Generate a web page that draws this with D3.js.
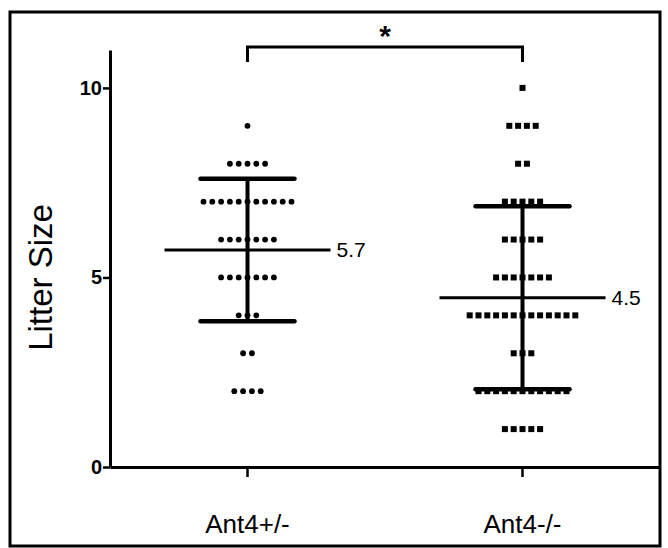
<!DOCTYPE html>
<html>
<head>
<meta charset="utf-8">
<script src="https://cdn.jsdelivr.net/npm/d3@7"></script>
<style>
  body { margin: 0; background: #fff; }
  svg text { font-family: "Liberation Sans", Arial, sans-serif; }
</style>
</head>
<body>
<div id="graph"></div>
<script>
// groups on the x axis
var groups = ["Ant4+/-", "Ant4-/-"];
// litter size values and how many litters had each size
var sizes1 = [9, 8, 7, 6, 5, 4, 3, 2];
var counts1 = [1, 5, 11, 7, 7, 3, 2, 4];
var sizes2 = [10, 9, 8, 7, 6, 5, 4, 3, 2, 1];
var counts2 = [1, 4, 2, 5, 5, 7, 13, 3, 11, 5];
var yTicks = [0, 5, 10];

var W = 668, H = 548;
var margin = {top: 50, right: 8, bottom: 81, left: 110};

var svg = d3.select("#graph").append("svg")
    .attr("width", W)
    .attr("height", H);

// frame round the whole figure
svg.append("rect")
    .attr("x", 10).attr("y", 12)
    .attr("width", 650).attr("height", 534)
    .attr("fill", "none").attr("stroke", "#000").attr("stroke-width", 3);

var x = d3.scaleBand().domain(groups).range([margin.left, W - margin.right]);
var y = d3.scaleLinear().domain([0, 11]).range([H - margin.bottom, margin.top]);

// turn size/count lists into one point per litter
function expand(sizes, counts) {
    var out = [];
    sizes.forEach(function(s, i) {
        for (var k = 0; k < counts[i]; k++) out.push({v: s, k: k, n: counts[i]});
    });
    return out;
}
var data = [expand(sizes1, counts1), expand(sizes2, counts2)];

var step = 8.8; // horizontal spacing between dots in a row

data.forEach(function(pts, gi) {
    var cx = x(groups[gi]) + x.bandwidth() / 2;
    var vals = pts.map(function(d) { return d.v; });
    var mean = d3.mean(vals), sd = d3.deviation(vals);

    var g = svg.append("g");
    if (gi == 0) {
        g.selectAll("circle").data(pts).enter().append("circle")
            .attr("r", 2.9)
            .attr("cx", function(d) { return cx + (d.k - (d.n - 1) / 2) * step; })
            .attr("cy", function(d) { return y(d.v); });
    } else {
        g.selectAll("rect").data(pts).enter().append("rect")
            .attr("width", 6).attr("height", 6)
            .attr("x", function(d) { return cx + (d.k - (d.n - 1) / 2) * step - 3; })
            .attr("y", function(d) { return y(d.v) - 3; });
    }

    // mean line and label
    var half = 83;
    svg.append("line")
        .attr("x1", cx - half).attr("x2", cx + half)
        .attr("y1", y(mean)).attr("y2", y(mean))
        .attr("stroke", "#000").attr("stroke-width", 3);
    svg.append("text")
        .attr("x", cx + half + 6).attr("y", y(mean))
        .attr("dy", "0.35em")
        .style("font-size", "21px")
        .text(d3.format(".1f")(mean));

    // SD whiskers
    var capHalf = 47;
    svg.append("line")
        .attr("x1", cx).attr("x2", cx)
        .attr("y1", y(mean + sd)).attr("y2", y(mean - sd))
        .attr("stroke", "#000").attr("stroke-width", 4);
    [mean + sd, mean - sd].forEach(function(v) {
        svg.append("line")
            .attr("x1", cx - capHalf).attr("x2", cx + capHalf)
            .attr("y1", y(v)).attr("y2", y(v))
            .attr("stroke", "#000").attr("stroke-width", 4.5)
            .attr("stroke-linecap", "round");
    });
});

// axes
var yAxis = svg.append("g")
    .attr("transform", "translate(" + margin.left + ",0)")
    .call(d3.axisLeft(y).tickValues(yTicks).tickSize(7).tickPadding(1).tickSizeOuter(0));
yAxis.select(".domain").attr("stroke-width", 3);
yAxis.selectAll(".tick line").attr("stroke-width", 2.5);
yAxis.selectAll(".tick text")
    .style("font-family", "'Liberation Sans Narrow', 'Liberation Sans', Arial")
    .style("font-weight", "bold")
    .style("font-size", "20px")
    .attr("fill", "#000");

var xAxis = svg.append("g")
    .attr("transform", "translate(0," + y(0) + ")")
    .call(d3.axisBottom(x).tickSize(10).tickPadding(38).tickSizeOuter(0));
xAxis.select(".domain").attr("stroke-width", 3);
xAxis.selectAll(".tick line").attr("stroke-width", 2.5);
xAxis.selectAll(".tick text")
    .style("font-size", "26px")
    .attr("fill", "#000");

// y axis title
svg.append("text")
    .attr("transform", "translate(52," + y(5) + ") rotate(-90)")
    .style("text-anchor", "middle")
    .style("font-size", "33px")
    .text("Litter Size");

// significance bracket
var bx1 = x(groups[0]) + x.bandwidth() / 2, bx2 = x(groups[1]) + x.bandwidth() / 2;
svg.append("path")
    .attr("d", "M" + bx1 + "," + 62 + "V47H" + bx2 + "V62")
    .attr("fill", "none").attr("stroke", "#000").attr("stroke-width", 3);
svg.append("text")
    .attr("x", (bx1 + bx2) / 2).attr("y", 46)
    .style("text-anchor", "middle")
    .style("font-size", "30px")
    .style("font-weight", "bold")
    .text("*");
</script>
</body>
</html>
